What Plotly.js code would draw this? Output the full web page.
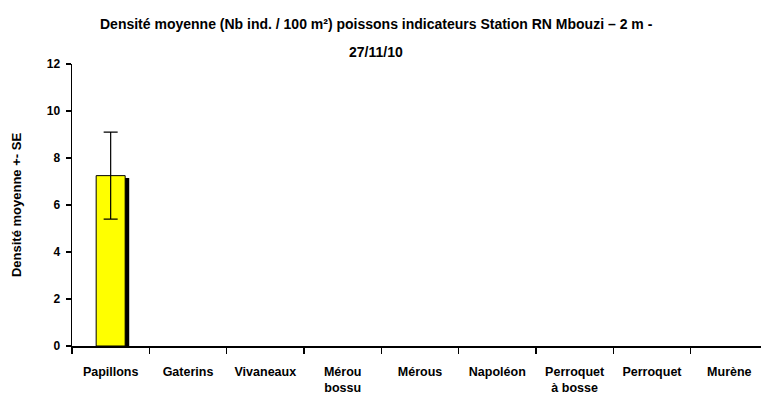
<!DOCTYPE html>
<html><head><meta charset="utf-8">
<script src="https://cdn.plot.ly/plotly-3.0.1.min.js"></script>
<style>body{margin:0;background:#fff}#c{width:761px;height:403px}</style>
</head><body><div id="c"></div>
<script>
const categories = ["Papillons","Gaterins","Vivaneaux","Mérou<br>bossu","Mérous","Napoléon","Perroquet<br>à bosse","Perroquet","Murène"];
const meanDensity = [7.25,0,0,0,0,0,0,0,0];
const seDensity = [1.85,0,0,0,0,0,0,0,0];
const shadowDensity = [7.15,0,0,0,0,0,0,0,0];
const yTicks = [0,2,4,6,8,10,12];
const titleLine1 = "Densité moyenne (Nb ind. / 100 m²) poissons indicateurs Station RN Mbouzi – 2 m -";
const titleLine2 = "27/11/10";
const fnt = "Liberation Sans Narrow, Arial Narrow, Liberation Sans, Arial, sans-serif";

// zero values are drawn as nothing (no visible bar in the reference)
const mainShown = meanDensity.map(v => v > 0 ? v : null);
const shadowShown = shadowDensity.map(v => v > 0 ? v : null);
const errShown = seDensity.map(v => v > 0 ? v : null);
const shadow = {type:"bar", x:categories, y:shadowShown, width:0.375, offset:-0.135,
  marker:{color:"#000", line:{width:0}}, hoverinfo:"skip", showlegend:false};
const main = {type:"bar", x:categories, y:mainShown, width:0.375, offset:-0.1875,
  marker:{color:"#ffff00", line:{color:"#000", width:1}},
  error_y:{type:"data", array:errShown, visible:true, color:"#000", thickness:1.2, width:7},
  showlegend:false};
const layout = {
  width:761, height:403, paper_bgcolor:"#fff", plot_bgcolor:"#fff",
  margin:{l:71.5, r:0, t:64, b:57},
  barmode:"overlay",
  font:{family:fnt, color:"#000", size:13},
  annotations:[
    {text:titleLine1, xref:"paper", yref:"paper", x:0.4416, y:1.142, xanchor:"center", yanchor:"middle",
     showarrow:false, font:{family:fnt, size:14, weight:"bold"}},
    {text:titleLine2, xref:"paper", yref:"paper", x:0.4416, y:1.043, xanchor:"center", yanchor:"middle",
     showarrow:false, font:{family:fnt, size:14, weight:"bold"}}
  ],
  xaxis:{type:"category", range:[-0.5, 8.41], showline:true, linecolor:"#000", linewidth:1.5,
    ticks:"outside", ticklen:6, tickcolor:"#000", tickwidth:1.5, tickson:"boundaries",
    ticklabelstandoff:13, tickangle:0,
    showgrid:false, zeroline:false, tickfont:{family:fnt, size:12.5, weight:"bold"}, fixedrange:true},
  yaxis:{range:[0,12], tickvals:yTicks, showline:true, linecolor:"#000", linewidth:1.5,
    ticks:"outside", ticklen:5, tickcolor:"#000", tickwidth:1.5, showgrid:false, zeroline:false,
    ticklabelstandoff:3,
    tickfont:{family:fnt, size:12, weight:"bold"},
    title:{text:"Densité moyenne +- SE", font:{family:fnt, size:13, weight:"bold"}, standoff:22}}
};
Plotly.newPlot("c",[shadow, main],layout,{staticPlot:true});
</script></body></html>
